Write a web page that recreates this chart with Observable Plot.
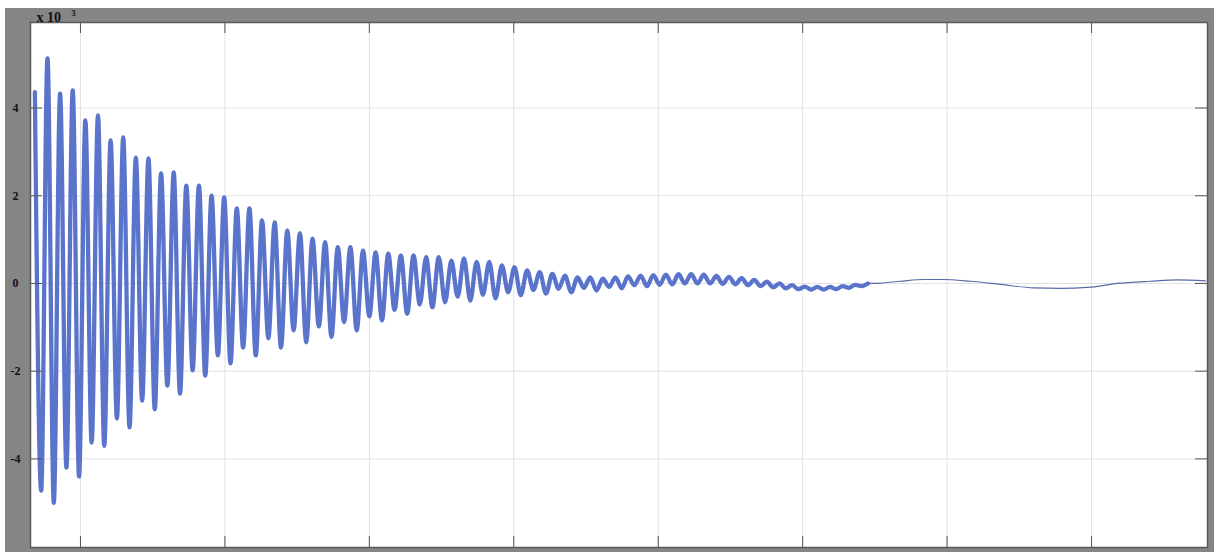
<!DOCTYPE html>
<html>
<head>
<meta charset="utf-8">
<script src="https://cdn.jsdelivr.net/npm/d3@7"></script>
<script src="https://cdn.jsdelivr.net/npm/@observablehq/plot@0.6"></script>
<style>
  html, body { margin: 0; padding: 0; background: #ffffff; }
  #wrap { position: relative; width: 1214px; height: 552px; background: #ffffff; overflow: hidden; }
  #chart { position: absolute; left: 5px; top: 8px; }
</style>
</head>
<body>
<div id="wrap"><div id="chart"></div></div>
<script>
// ---- data ----
// upper extremes of the oscillation (one per cycle), ×10^3
const peaks = [4.36, 5.13, 4.33, 4.40, 3.72, 3.83, 3.26, 3.33, 2.87, 2.85,
  2.51, 2.53, 2.23, 2.23, 2.0, 1.96, 1.71, 1.71, 1.44, 1.39,
  1.21, 1.15, 1.02, 0.94, 0.83, 0.83, 0.75, 0.71, 0.68, 0.64,
  0.64, 0.6, 0.6, 0.52, 0.57, 0.49, 0.49, 0.41, 0.37, 0.3,
  0.26, 0.22, 0.18, 0.14, 0.14, 0.11, 0.14, 0.16, 0.18, 0.19,
  0.2, 0.21, 0.21, 0.2, 0.17, 0.15, 0.12, 0.08, 0.04, 0.0,
  -0.04, -0.07, -0.08, -0.08, -0.06, -0.03, 0.0];
// lower extremes (between consecutive peaks)
const troughs = [-4.72, -5.0, -4.2, -4.4, -3.63, -3.7, -3.08, -3.28, -2.67, -2.87,
  -2.33, -2.51, -1.98, -2.1, -1.64, -1.82, -1.46, -1.64, -1.25, -1.46,
  -1.07, -1.34, -0.98, -1.22, -0.88, -1.07, -0.75, -0.84, -0.6, -0.69,
  -0.48, -0.54, -0.43, -0.3, -0.39, -0.26, -0.34, -0.2, -0.27, -0.15,
  -0.23, -0.12, -0.2, -0.1, -0.16, -0.08, -0.11, -0.04, -0.06, -0.03,
  -0.02, 0.0, 0.0, 0.0, -0.01, -0.02, -0.04, -0.06, -0.09, -0.11,
  -0.13, -0.14, -0.14, -0.13, -0.1, -0.06];
// sampling of the extremes: time of the first peak and half-period
const startTime = 0.6843;
const halfPeriod = 0.04369;
// slow tail after the oscillation has died out
const tailTime = [6.539, 6.677, 6.837, 6.975, 7.162, 7.370, 7.598, 7.785, 7.972, 8.180, 8.408, 8.595, 8.789];
const tailValue = [0.01, 0.05, 0.09, 0.09, 0.05, -0.02, -0.1, -0.11, -0.09, 0.0, 0.05, 0.08, 0.06];
// axes
const xTicks = [1, 2, 3, 4, 5, 6, 7, 8];
const yTicks = [-4, -2, 0, 2, 4];
const yTickLabels = ["-4", "-2", "0", "2", "4"];
const xDomain = [0.654, 8.803];
const yDomain = [-6.02, 5.95];
const exponentBase = "x 10";
const exponentPower = "3";

// ---- build table ----
const osc = [];
for (let k = 0; k < peaks.length; k++) {
  osc.push({t: startTime + 2 * k * halfPeriod, v: peaks[k]});
  if (k < troughs.length) osc.push({t: startTime + (2 * k + 1) * halfPeriod, v: troughs[k]});
}
const tail = [osc[osc.length - 1]].concat(tailTime.map((t, i) => ({t, v: tailValue[i]})));

const W = 1209, H = 544;
const mL = 25, mR = 7, mT = 14, mB = 5;
const plotW = W - mL - mR, plotH = H - mT - mB;
const font = "'Liberation Serif', 'DejaVu Serif', serif";

const chart = Plot.plot({
  width: W, height: H,
  marginLeft: mL, marginRight: mR, marginTop: mT, marginBottom: mB,
  x: {domain: xDomain, axis: null},
  y: {domain: yDomain, axis: null},
  style: {background: "#858585", fontFamily: font, fontSize: "12px", overflow: "visible"},
  marks: [
    Plot.frame({fill: "#ffffff", stroke: null}),
    Plot.ruleX(xTicks, {x: d => d, stroke: "#e2e2e2", strokeWidth: 1}),
    Plot.ruleY(yTicks, {y: d => d, stroke: "#e2e2e2", strokeWidth: 1}),
    Plot.line(osc, {x: "t", y: "v", stroke: "#5a74cc", strokeWidth: 4.3, curve: "monotone-x"}),
    Plot.line(tail, {x: "t", y: "v", stroke: "#5a6aa8", strokeWidth: 1.2, curve: "monotone-x"}),
    // inward ticks on all four sides
    Plot.tickY(yTicks, {y: d => d, stroke: "#555", insetRight: plotW - 12}),
    Plot.tickY(yTicks, {y: d => d, stroke: "#555", insetLeft: plotW - 12}),
    Plot.tickX(xTicks, {x: d => d, stroke: "#555", insetBottom: plotH - 11}),
    Plot.tickX(xTicks, {x: d => d, stroke: "#555", insetTop: plotH - 11}),
    Plot.frame({stroke: "#5a5a5a", strokeWidth: 1.5}),
    Plot.text(yTicks, {y: d => d, text: (d, i) => yTickLabels[i], frameAnchor: "left", dx: -15,
      textAnchor: "middle", fontWeight: "bold", fontSize: 12, fill: "#111"}),
    Plot.text([exponentBase], {text: d => d, frameAnchor: "top-left", dx: 6, dy: -1,
      lineAnchor: "bottom", textAnchor: "start", fontWeight: "bold", fontSize: 14, fill: "#111",
      letterSpacing: "1px"}),
    Plot.text([exponentPower], {text: d => d, frameAnchor: "top-left", dx: 41, dy: -7,
      lineAnchor: "bottom", textAnchor: "start", fontWeight: "bold", fontSize: 8, fill: "#111"})
  ]
});
document.getElementById("chart").appendChild(chart);
</script>
</body>
</html>
